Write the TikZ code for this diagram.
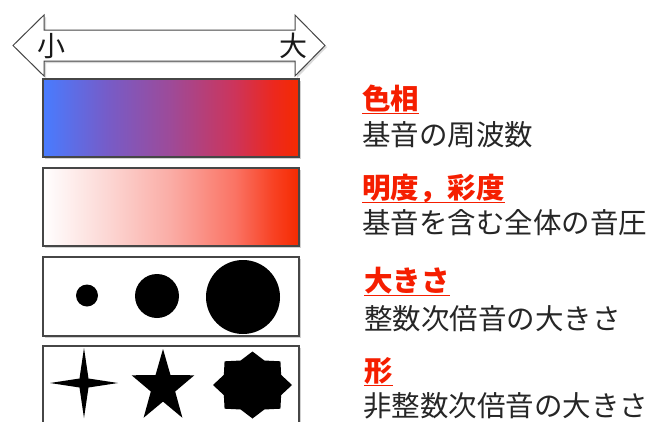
\documentclass[tikz,border=0pt]{standalone}
\usepackage{fontspec}
\setmainfont{Noto Sans CJK JP}
\usetikzlibrary{calc}
\definecolor{hdr}{RGB}{245,30,0}
\definecolor{edge}{RGB}{70,70,70}
\pgfdeclarehorizontalshading{hueshade}{100bp}{
  color(0bp)=(rgb,255:red,72;green,124;blue,255);
  color(25bp)=(rgb,255:red,72;green,124;blue,255);
  color(37.5bp)=(rgb,255:red,118;green,92;blue,200);
  color(50bp)=(rgb,255:red,158;green,74;blue,152);
  color(62.5bp)=(rgb,255:red,205;green,52;blue,90);
  color(70bp)=(rgb,255:red,236;green,40;blue,30);
  color(75bp)=(rgb,255:red,245;green,42;blue,0);
  color(100bp)=(rgb,255:red,245;green,42;blue,0)}
\pgfdeclarehorizontalshading{lightshade}{100bp}{
  color(0bp)=(white);
  color(25bp)=(white);
  color(37.5bp)=(rgb,255:red,252;green,215;blue,212);
  color(50bp)=(rgb,255:red,250;green,172;blue,165);
  color(62.5bp)=(rgb,255:red,250;green,115;blue,100);
  color(70bp)=(rgb,255:red,248;green,65;blue,35);
  color(75bp)=(rgb,255:red,245;green,42;blue,0);
  color(100bp)=(rgb,255:red,245;green,42;blue,0)}
\tikzset{
  panel/.style={draw=edge, line width=1.1pt},
  shadowbox/.style={fill=black, opacity=0.18},
  txt/.style={inner sep=0pt, anchor=base west, font=\fontsize{28.5}{30}\selectfont, text=black!85},
  hd/.style={inner sep=0pt, anchor=base west, font=\fontsize{28.5}{30}\selectfont\bfseries, text=hdr},
  uline/.style={draw=hdr, line width=1.6pt},
  lbl/.style={inner sep=0pt, font=\fontsize{28}{30}\selectfont, text=black!90}
}
\begin{document}
\begin{tikzpicture}[x=1pt,y=-1pt]
\useasboundingbox[fill=white] (0,0) rectangle (654,421);
% double arrow
\fill[black, opacity=0.15] (15,47) -- (46,17) -- (46,32) -- (297,32) -- (297,17) -- (327,47) -- (297,78) -- (297,63) -- (46,63) -- (46,78) -- cycle;
\draw[edge, line width=1pt, fill=white, line join=miter] (13,45.5) -- (44,15) -- (44,30) -- (295,30) -- (295,15) -- (325,45.5) -- (295,76) -- (295,61) -- (44,61) -- (44,76) -- cycle;
\node[lbl] (small) at (51,46) {小};
\node[lbl] (large) at (293,46) {大};
% panels
\fill[shadowbox] (45,81) rectangle (301,159);
\path[panel, shading=hueshade] (43,79) rectangle (299,157);
\fill[shadowbox] (45,170) rectangle (301,248);
\path[panel, shading=lightshade] (43,168) rectangle (299,246);
\fill[shadowbox] (45,259) rectangle (301,338);
\draw[panel, fill=white] (43,257) rectangle (299,336);
\fill[shadowbox] (45,348) rectangle (301,423);
\draw[panel, fill=white] (43,346) rectangle (299,425);
% circles
\fill (87,295.5) circle (11);
\fill (157,296) circle (22);
\fill (243,297) circle (37);
% four-point star
\fill (84,348) -- (88.5,378.5) -- (118,383) -- (88.5,387.5) -- (84,418) -- (79.5,387.5) -- (50,383) -- (79.5,378.5) -- cycle;
% five-point star
\fill[shift={(163,387)}] plot[samples at={0,...,9}, variable=\k]
  ({(mod(\k,2)==0 ? 33 : 12.8)*cos(90+\k*36)}, {-(mod(\k,2)==0 ? 38 : 14.6)*sin(90+\k*36)}) -- cycle;
% eight-point star
\fill[shift={(252.5,385)}] plot[samples at={0,...,15}, variable=\k]
  ({(mod(\k,2)==0 ? 39.5 : 31)*cos(\k*22.5)}, {-(mod(\k,2)==0 ? 33.5 : 26.5)*sin(\k*22.5)}) -- cycle;
% texts
\node[hd] (h1) at (362,109) {色相};
\draw[uline] (362,113.5) -- (h1.base east |- 0,113.5);
\node[txt] (t1) at (362,145) {基音の周波数};
\node[hd] (h2) at (362,198) {明度，彩度};
\draw[uline] (362,202.5) -- (h2.base east |- 0,202.5);
\node[txt] (t2) at (362,233) {基音を含む全体の音圧};
\node[hd] (h3) at (364,291) {大きさ};
\draw[uline] (364,295.5) -- (h3.base east |- 0,295.5);
\node[txt] (t3) at (364,329) {整数次倍音の大きさ};
\node[hd] (h4) at (364,381) {形};
\draw[uline] (364,385.5) -- (h4.base east |- 0,385.5);
\node[txt] (t4) at (363,416) {非整数次倍音の大きさ};
\end{tikzpicture}
\end{document}
